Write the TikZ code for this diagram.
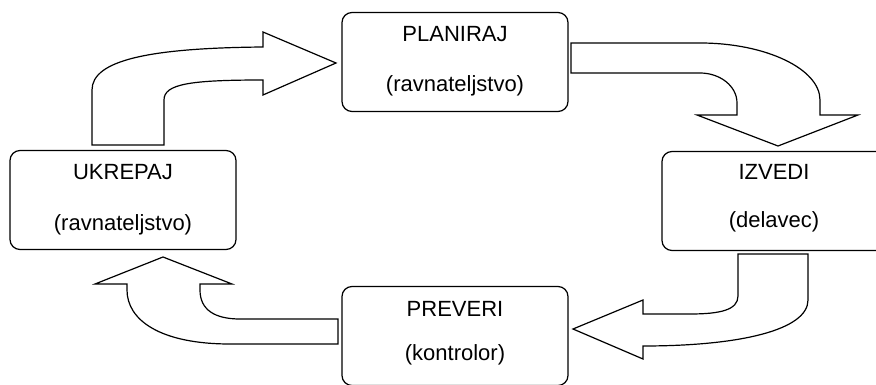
\documentclass[tikz,border=0pt]{standalone}
\usepackage{fontspec}
\setmainfont{Liberation Sans}
\begin{document}
\begin{tikzpicture}[x=1pt,y=-1pt,
  stage/.style={draw, line width=1.2pt, rounded corners=10pt,
    minimum width=226pt, minimum height=99pt, inner sep=0pt},
  caption/.style={anchor=base, inner sep=0pt, font=\fontsize{22}{26}\selectfont},
  blockarrow/.style={draw, line width=1.2pt, fill=white, line join=miter}]
\path[use as bounding box] (0,0) rectangle (876,385);
\clip (0,0) rectangle (876,385);

% the four stages of the cycle
\node[stage] (plan) at (455,62) {};
\node[stage] (izv)  at (775,201) {};
\node[stage] (ukr)  at (123,200) {};
\node[stage] (prev) at (455,336) {};

\node[caption] (plant) at (455,42)  {PLANIRAJ};
\node[caption] (planw) at (455,92)  {(ravnateljstvo)};
\node[caption] (izvt)  at (774,179) {IZVEDI};
\node[caption] (izvw)  at (774,227) {(delavec)};
\node[caption] (ukrt)  at (123,179) {UKREPAJ};
\node[caption] (ukrw)  at (123,230) {(ravnateljstvo)};
\node[caption] (prevt) at (455,316) {PREVERI};
\node[caption] (prevw) at (455,360) {(kontrolor)};

% bent block arrow: UKREPAJ -> PLANIRAJ
\draw[blockarrow] (92,145) -- (92,90)
  .. controls (92,60) and (150,48) .. (263,47)
  -- (263,32) -- (336,63) -- (263,95) -- (263,80)
  .. controls (190,80) and (164,84) .. (164,100)
  -- (164,145) -- cycle;

% bent block arrow: PLANIRAJ -> IZVEDI
\draw[blockarrow] (571,73) -- (571,43) -- (700,43)
  .. controls (766,43) and (820,69) .. (820,100)
  -- (820,115) -- (858,115) -- (778,146) -- (697,115) -- (737,115)
  -- (737,103)
  .. controls (737,86) and (720,73) .. (700,73)
  -- cycle;

% bent block arrow: IZVEDI -> PREVERI
\draw[blockarrow] (738,254) -- (808,254) -- (808,300)
  .. controls (808,330) and (740,346) .. (643,346)
  -- (643,359) -- (573,329) -- (643,300) -- (643,314)
  -- (690,314)
  .. controls (720,314) and (738,310) .. (738,296)
  -- cycle;

% bent block arrow: PREVERI -> UKREPAJ
\draw[blockarrow] (338,319) -- (338,344) -- (230,344)
  .. controls (160,344) and (127,320) .. (127,290)
  -- (127,284) -- (95,284) -- (163,257) -- (232,284) -- (200,284)
  -- (200,290)
  .. controls (200,310) and (215,319) .. (240,319)
  -- cycle;
\end{tikzpicture}
\end{document}
